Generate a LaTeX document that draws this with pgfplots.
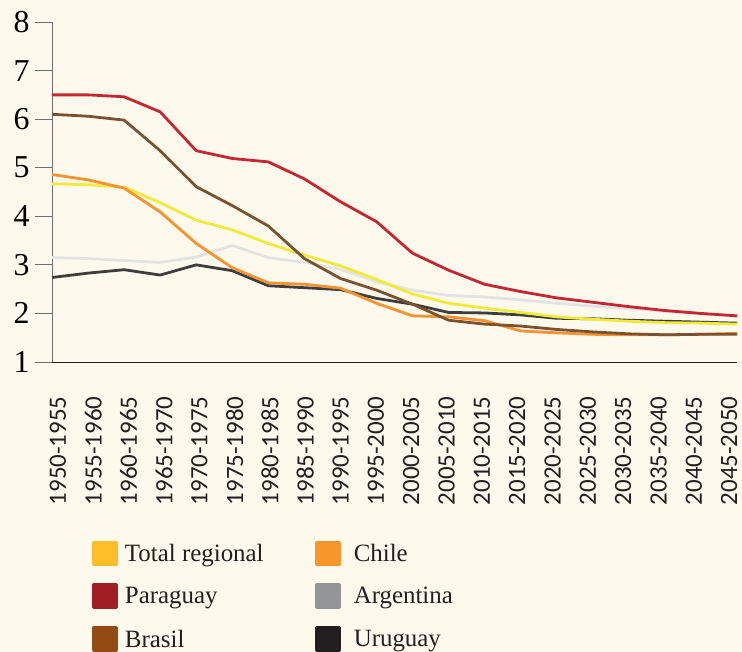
\documentclass[border=0pt]{standalone}
\usepackage{fontspec}
\setmainfont{Liberation Serif}
\newfontfamily\lblfont{Carlito}
\usepackage{pgfplots}
\pgfplotsset{compat=1.18}
\definecolor{bg}{HTML}{FDF9EC}
\definecolor{cTot}{HTML}{F2EA3B}
\definecolor{cChi}{HTML}{F7922E}
\definecolor{cPar}{HTML}{C5262F}
\definecolor{cArg}{HTML}{E3E3E3}
\definecolor{cBra}{HTML}{7B5230}
\definecolor{cUru}{HTML}{3D3D3D}
\definecolor{lTot}{HTML}{FDBE2A}
\definecolor{lChi}{HTML}{F7962B}
\definecolor{lPar}{HTML}{A01E24}
\definecolor{lArg}{HTML}{939598}
\definecolor{lBra}{HTML}{944B13}
\definecolor{lUru}{HTML}{231F20}
\definecolor{axgray}{HTML}{6D6E71}
\definecolor{axdark}{HTML}{231F20}
\begin{document}
\begin{tikzpicture}
\fill[bg] (-52bp,-290bp) rectangle (690bp,362bp);
\begin{axis}[
  at={(0,0)}, anchor=south west,
  scale only axis, width=685bp, height=340bp,
  xmin=0, xmax=19, ymin=1, ymax=8,
  axis lines*=left,
  x axis line style={draw=axdark, line width=1pt},
  y axis line style={draw=axgray, line width=1pt},
  xtick={0.166,1.146,2.126,3.106,4.085,5.065,6.045,7.025,8.005,8.984,9.964,10.944,11.924,12.903,13.883,14.863,15.843,16.823,17.802,18.782},
  xticklabels={1950-1955,1955-1960,1960-1965,1965-1970,1970-1975,1975-1980,1980-1985,1985-1990,1990-1995,1995-2000,2000-2005,2005-2010,2010-2015,2015-2020,2020-2025,2025-2030,2030-2035,2035-2040,2040-2045,2045-2050},
  xtick style={draw=none},
  xticklabel style={font=\lblfont\fontsize{25}{25}\selectfont, yshift=-14bp, rotate=90, anchor=east, text=axdark},
  ytick={1,...,8},
  tick align=outside,
  major tick length=17bp,
  ytick style={draw=axgray, line width=1pt},
  yticklabel style={font=\fontsize{32}{32}\selectfont, text=black, xshift=-2bp},
  /pgf/number format/assume math mode=true,
  every axis plot/.append style={line width=2.8pt, line join=round},
  legend columns=2,
  legend cell align=left,
  legend style={draw=none, fill=none, at={(0.0584,-0.525)}, anchor=north west,
    font=\fontsize{25}{25}\selectfont, row sep=17bp, column sep=0pt,
    inner sep=0pt, nodes={inner sep=0pt, anchor=west, text=axdark}},
]
\addlegendimage{legend image code/.code={\fill[lTot] (0bp,-11.5bp) rectangle (23bp,11.5bp);}}
\addlegendentry{\hspace{7bp}\makebox[190bp][l]{Total regional}}
\addlegendimage{legend image code/.code={\fill[lChi] (0bp,-11.5bp) rectangle (23bp,11.5bp);}}
\addlegendentry{\hspace{13bp}Chile}
\addlegendimage{legend image code/.code={\fill[lPar] (0bp,-11.5bp) rectangle (23bp,11.5bp);}}
\addlegendentry{\hspace{7bp}Paraguay}
\addlegendimage{legend image code/.code={\fill[lArg] (0bp,-11.5bp) rectangle (23bp,11.5bp);}}
\addlegendentry{\hspace{13bp}Argentina}
\addlegendimage{legend image code/.code={\fill[lBra] (0bp,-11.5bp) rectangle (23bp,11.5bp);}}
\addlegendentry{\hspace{7bp}Brasil}
\addlegendimage{legend image code/.code={\fill[lUru] (0bp,-11.5bp) rectangle (23bp,11.5bp);}}
\addlegendentry{\hspace{13bp}Uruguay}
% Argentina
\addplot[cArg, forget plot] coordinates {(0,3.15)(1,3.13)(2,3.09)(3,3.05)(4,3.16)(5,3.40)(6,3.15)(7,3.05)(8,2.91)(9,2.65)(10,2.48)(11,2.37)(12,2.34)(13,2.28)(14,2.21)(15,2.15)(16,2.10)(17,2.04)(18,1.99)(19,1.95)};
% Uruguay
\addplot[cUru, forget plot] coordinates {(0,2.74)(1,2.83)(2,2.90)(3,2.79)(4,3.00)(5,2.88)(6,2.57)(7,2.53)(8,2.49)(9,2.31)(10,2.19)(11,2.02)(12,2.01)(13,1.97)(14,1.90)(15,1.89)(16,1.86)(17,1.84)(18,1.82)(19,1.80)};
% Total regional
\addplot[cTot, forget plot] coordinates {(0,4.67)(1,4.65)(2,4.60)(3,4.28)(4,3.92)(5,3.72)(6,3.44)(7,3.20)(8,2.98)(9,2.70)(10,2.40)(11,2.21)(12,2.11)(13,2.02)(14,1.93)(15,1.88)(16,1.84)(17,1.81)(18,1.80)(19,1.78)};
% Chile
\addplot[cChi, forget plot] coordinates {(0,4.86)(1,4.75)(2,4.58)(3,4.09)(4,3.44)(5,2.94)(6,2.63)(7,2.60)(8,2.52)(9,2.21)(10,1.95)(11,1.93)(12,1.85)(13,1.64)(14,1.60)(15,1.57)(16,1.56)(17,1.56)(18,1.57)(19,1.59)};
% Brasil
\addplot[cBra, forget plot] coordinates {(0,6.10)(1,6.06)(2,5.98)(3,5.35)(4,4.61)(5,4.22)(6,3.80)(7,3.13)(8,2.72)(9,2.48)(10,2.19)(11,1.86)(12,1.78)(13,1.74)(14,1.67)(15,1.62)(16,1.58)(17,1.56)(18,1.57)(19,1.57)};
% Paraguay
\addplot[cPar, forget plot] coordinates {(0,6.50)(1,6.50)(2,6.46)(3,6.15)(4,5.35)(5,5.19)(6,5.12)(7,4.77)(8,4.30)(9,3.89)(10,3.24)(11,2.89)(12,2.60)(13,2.45)(14,2.32)(15,2.23)(16,2.14)(17,2.06)(18,2.00)(19,1.95)};
\end{axis}
\pgfresetboundingbox
\useasboundingbox (-52bp,-290bp) rectangle (690bp,362bp);
\end{tikzpicture}
\end{document}
